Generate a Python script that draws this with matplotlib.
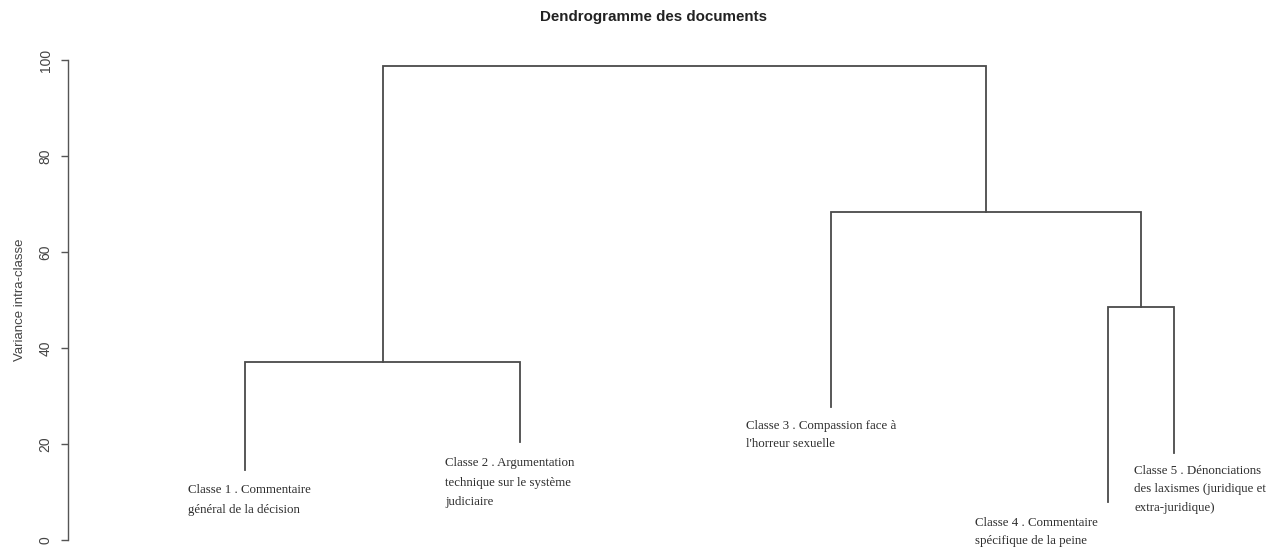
import matplotlib
matplotlib.use("Agg")
import matplotlib.pyplot as plt

# ---- data ----
leaf_labels = [
    "Classe 1 . Commentaire\ngénéral de la décision",
    "Classe 2 . Argumentation\ntechnique sur le système\njudiciaire",
    "Classe 3 . Compassion face à\nl'horreur sexuelle",
    "Classe 4 . Commentaire\nspécifique de la peine",
    "Classe 5 . Dénonciations\ndes laxismes (juridique et\nextra-juridique)",
]
leaf_pos = [14.6, 37.3, 62.9, 85.7, 91.2]          # horizontal leaf positions
leaf_bottom = [14.6, 20.4, 27.8, 7.9, 18.1]        # where each leaf line ends
# merges: (left child, right child, height); children: leaf index or "m<k>"
merges = [
    (0, 1, 37.1),
    (3, 4, 48.5),
    (2, "m1", 68.3),
    ("m0", "m2", 98.7),
]
yticks = [0, 20, 40, 60, 80, 100]
title = "Dendrogramme des documents"
ylabel = "Variance intra-classe"

# ---- figure ----
W, H, DPI = 1281, 550, 100
fig = plt.figure(figsize=(W / DPI, H / DPI), dpi=DPI)
ax = fig.add_axes([68 / W, 10 / H, (W - 68) / W, 480 / H])
ax.set_xlim(0, 100)
ax.set_ylim(0, 100)

line_col = "#4a4a4a"
lw = 1.3

def child_xy(c, merged):
    if isinstance(c, int):
        return leaf_pos[c], leaf_bottom[c]
    return merged[int(c[1:])]

merged = []
for a, b, h in merges:
    xa, ya = child_xy(a, merged)
    xb, yb = child_xy(b, merged)
    ax.plot([xa, xa, xb, xb], [ya, h, h, yb], color=line_col, lw=lw,
            solid_joinstyle="miter", clip_on=False)
    merged.append(((xa + xb) / 2, h))

# labels (left aligned, slightly left of leaf, below leaf end)
label_dx = [-4.7, -6.2, -7.0, -10.9, -3.3]
label_dy = [-3.0, -3.1, -2.8, -3.1, -2.5]
label_ls = [1.85, 1.85, 1.7, 1.7, 1.7]
for i, txt in enumerate(leaf_labels):
    ax.text(leaf_pos[i] + label_dx[i], leaf_bottom[i] + label_dy[i], txt,
            ha="left", va="top", fontsize=9.3, family="Liberation Serif",
            color="#2e2e2e", linespacing=label_ls[i], clip_on=False)

# axes styling
for s in ["top", "right", "bottom"]:
    ax.spines[s].set_visible(False)
ax.spines["left"].set_color("#555555")
ax.spines["left"].set_linewidth(1.0)
ax.spines["left"].set_bounds(0, 100)
ax.set_xticks([])
ax.set_yticks(yticks)
ax.set_yticklabels([str(t) for t in yticks], rotation=90, va="center",
                   fontsize=10, family="Liberation Sans", color="#444444")
ax.tick_params(axis="y", length=5, width=1.0, color="#555555", pad=6)
ax.set_ylabel(ylabel, fontsize=9.5, family="Liberation Sans", color="#444444")
ax.yaxis.set_label_coords((26 - 68) / (W - 68), 0.5)

fig.text(654 / W, 1 - 17 / H, title, ha="center", va="center",
         fontsize=10.9, fontweight="bold", family="Liberation Sans",
         color="#222222")

fig.savefig("out.png", dpi=DPI, facecolor="white")
